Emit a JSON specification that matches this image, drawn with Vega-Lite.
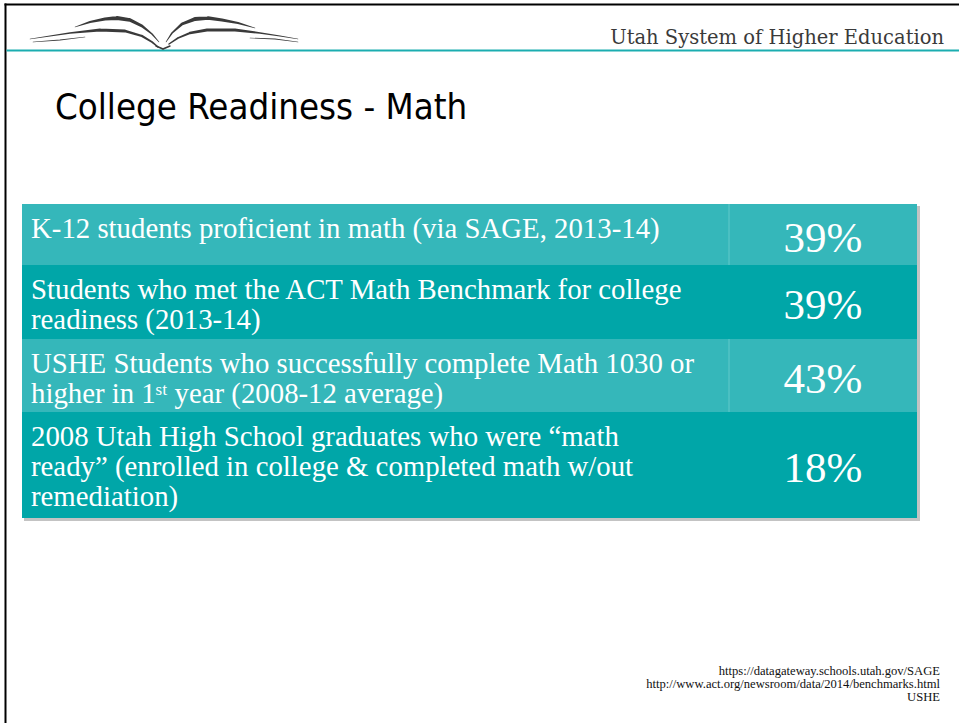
{
  "$schema": "https://vega.github.io/schema/vega-lite/v6.json",
  "width": 959,
  "height": 723,
  "autosize": {"type": "fit", "contains": "padding"},
  "padding": 0,
  "background": "white",
  "config": {"view": {"stroke": null}},
  "datasets": {
    "shapes": [
      {"kind": "frame", "x": 4.5, "x2": 959, "y": 3.5, "y2": 5.5},
      {"kind": "frame", "x": 4.5, "x2": 6.5, "y": 3.5, "y2": 723},
      {"kind": "rule", "x": 6.5, "x2": 959, "y": 49.5, "y2": 51.5},
      {"kind": "shadow", "x": 24, "x2": 920, "y": 206, "y2": 521}
    ],
    "rows": [
      {"row": 1, "shade": "light", "top": 204, "bottom": 265, "mid": 234.5, "label": "K-12 students proficient in math (via SAGE, 2013-14)", "value": "39%"},
      {"row": 2, "shade": "dark", "top": 265, "bottom": 339, "mid": 302, "label": "Students who met the ACT Math Benchmark for college\nreadiness (2013-14)", "value": "39%"},
      {"row": 3, "shade": "light", "top": 339, "bottom": 412, "mid": 375.5, "label": "USHE Students who successfully complete Math 1030 or\nhigher in 1ˢᵗ year (2008-12 average)", "value": "43%"},
      {"row": 4, "shade": "dark", "top": 412, "bottom": 518, "mid": 465, "label": "2008 Utah High School graduates who were “math\nready” (enrolled in college & completed math w/out\nremediation)", "value": "18%"}
    ],
    "logo": [
      {"s": "LU", "i": 1, "x": 75, "y": 27, "w": 0.5},
      {"s": "LU", "i": 2, "x": 90, "y": 22, "w": 2},
      {"s": "LU", "i": 3, "x": 105, "y": 19, "w": 3.2},
      {"s": "LU", "i": 4, "x": 117, "y": 18, "w": 4},
      {"s": "LU", "i": 5, "x": 130, "y": 20, "w": 3.6},
      {"s": "LU", "i": 6, "x": 142, "y": 26, "w": 2.8},
      {"s": "LU", "i": 7, "x": 152, "y": 34, "w": 1.6},
      {"s": "LU", "i": 8, "x": 159, "y": 42, "w": 0.5},
      {"s": "LL", "i": 1, "x": 30, "y": 39, "w": 0.5},
      {"s": "LL", "i": 2, "x": 50, "y": 36, "w": 0.9},
      {"s": "LL", "i": 3, "x": 70, "y": 33, "w": 1.6},
      {"s": "LL", "i": 4, "x": 100, "y": 30, "w": 2.8},
      {"s": "LL", "i": 5, "x": 125, "y": 31, "w": 2.8},
      {"s": "LL", "i": 6, "x": 142, "y": 36, "w": 2.2},
      {"s": "LL", "i": 7, "x": 152, "y": 42, "w": 1.8},
      {"s": "LL", "i": 8, "x": 158, "y": 47, "w": 1.4},
      {"s": "LT", "i": 1, "x": 33, "y": 42, "w": 0.6},
      {"s": "LT", "i": 2, "x": 60, "y": 40, "w": 0.8},
      {"s": "LT", "i": 3, "x": 85, "y": 37, "w": 0.6},
      {"s": "B", "i": 1, "x": 156, "y": 46, "w": 1.4},
      {"s": "B", "i": 2, "x": 163, "y": 49, "w": 1.8},
      {"s": "B", "i": 3, "x": 170, "y": 46, "w": 1.4},
      {"s": "RU", "i": 1, "x": 166, "y": 42, "w": 0.5},
      {"s": "RU", "i": 2, "x": 172, "y": 33, "w": 1.6},
      {"s": "RU", "i": 3, "x": 182, "y": 24, "w": 2.8},
      {"s": "RU", "i": 4, "x": 195, "y": 19, "w": 4},
      {"s": "RU", "i": 5, "x": 208, "y": 18, "w": 3.6},
      {"s": "RU", "i": 6, "x": 222, "y": 20, "w": 3.2},
      {"s": "RU", "i": 7, "x": 238, "y": 23, "w": 2},
      {"s": "RU", "i": 8, "x": 255, "y": 28, "w": 0.5},
      {"s": "RL", "i": 1, "x": 169, "y": 44, "w": 1.4},
      {"s": "RL", "i": 2, "x": 178, "y": 38, "w": 1.8},
      {"s": "RL", "i": 3, "x": 190, "y": 33, "w": 2.4},
      {"s": "RL", "i": 4, "x": 207, "y": 30, "w": 2.8},
      {"s": "RL", "i": 5, "x": 235, "y": 30, "w": 2.8},
      {"s": "RL", "i": 6, "x": 260, "y": 33, "w": 1.6},
      {"s": "RL", "i": 7, "x": 280, "y": 36, "w": 0.9},
      {"s": "RL", "i": 8, "x": 298, "y": 39, "w": 0.5},
      {"s": "RT", "i": 1, "x": 250, "y": 38, "w": 0.6},
      {"s": "RT", "i": 2, "x": 275, "y": 39, "w": 0.8},
      {"s": "RT", "i": 3, "x": 298, "y": 42, "w": 0.6}
    ]
  },
  "layer": [
    {
      "data": {"name": "shapes"},
      "transform": [{"filter": "datum.kind === 'shadow'"}],
      "mark": {"type": "rect", "color": "#b8b8b8", "opacity": 0.85},
      "encoding": {
        "x": {"field": "x", "type": "quantitative", "scale": {"domain": [0, 959], "nice": false, "zero": false}, "axis": null},
        "x2": {"field": "x2"},
        "y": {"field": "y", "type": "quantitative", "scale": {"domain": [0, 723], "reverse": true, "nice": false, "zero": false}, "axis": null},
        "y2": {"field": "y2"}
      }
    },
    {
      "data": {"name": "shapes"},
      "transform": [{"filter": "datum.kind === 'frame'"}],
      "mark": {"type": "rect", "color": "#000000"},
      "encoding": {
        "x": {"field": "x", "type": "quantitative", "scale": {"domain": [0, 959], "nice": false, "zero": false}, "axis": null},
        "x2": {"field": "x2"},
        "y": {"field": "y", "type": "quantitative", "scale": {"domain": [0, 723], "reverse": true, "nice": false, "zero": false}, "axis": null},
        "y2": {"field": "y2"}
      }
    },
    {
      "data": {"name": "shapes"},
      "transform": [{"filter": "datum.kind === 'rule'"}],
      "mark": {"type": "rect", "color": "#1badb0"},
      "encoding": {
        "x": {"field": "x", "type": "quantitative", "scale": {"domain": [0, 959], "nice": false, "zero": false}, "axis": null},
        "x2": {"field": "x2"},
        "y": {"field": "y", "type": "quantitative", "scale": {"domain": [0, 723], "reverse": true, "nice": false, "zero": false}, "axis": null},
        "y2": {"field": "y2"}
      }
    },
    {
      "data": {"name": "logo"},
      "mark": {"type": "trail", "color": "#3a3a3a"},
      "encoding": {
        "x": {"field": "x", "type": "quantitative", "scale": {"domain": [0, 959], "nice": false, "zero": false}, "axis": null},
        "y": {"field": "y", "type": "quantitative", "scale": {"domain": [0, 723], "reverse": true, "nice": false, "zero": false}, "axis": null},
        "size": {"field": "w", "type": "quantitative", "scale": null, "legend": null},
        "detail": {"field": "s", "type": "nominal"},
        "order": {"field": "i", "type": "quantitative"}
      }
    },
    {
      "data": {"values": [{"t": "Utah System of Higher Education"}]},
      "mark": {"type": "text", "align": "right", "baseline": "alphabetic", "font": "DejaVu Serif", "fontSize": 19.5, "color": "#3a3a3a"},
      "encoding": {
        "x": {"datum": 944, "type": "quantitative", "scale": {"domain": [0, 959], "nice": false, "zero": false}, "axis": null},
        "y": {"datum": 44, "type": "quantitative", "scale": {"domain": [0, 723], "reverse": true, "nice": false, "zero": false}, "axis": null},
        "text": {"field": "t", "type": "nominal"}
      }
    },
    {
      "data": {"values": [{"t": "College Readiness - Math"}]},
      "mark": {"type": "text", "align": "left", "baseline": "alphabetic", "font": "DejaVu Sans Condensed", "fontSize": 36.3, "color": "#000000"},
      "encoding": {
        "x": {"datum": 55, "type": "quantitative", "scale": {"domain": [0, 959], "nice": false, "zero": false}, "axis": null},
        "y": {"datum": 118.5, "type": "quantitative", "scale": {"domain": [0, 723], "reverse": true, "nice": false, "zero": false}, "axis": null},
        "text": {"field": "t", "type": "nominal"}
      }
    },
    {
      "data": {"name": "rows"},
      "mark": {"type": "rect"},
      "encoding": {
        "x": {"datum": 22, "type": "quantitative", "scale": {"domain": [0, 959], "nice": false, "zero": false}, "axis": null},
        "x2": {"datum": 917},
        "y": {"field": "top", "type": "quantitative", "scale": {"domain": [0, 723], "reverse": true, "nice": false, "zero": false}, "axis": null},
        "y2": {"field": "bottom"},
        "color": {"field": "shade", "type": "nominal", "scale": {"domain": ["light", "dark"], "range": ["#35b7ba", "#00a6a8"]}, "legend": null}
      }
    },
    {
      "data": {"name": "rows"},
      "transform": [{"filter": "datum.shade === 'light'"}],
      "mark": {"type": "rule", "color": "#62c9cb", "strokeWidth": 1},
      "encoding": {
        "x": {"datum": 729, "type": "quantitative", "scale": {"domain": [0, 959], "nice": false, "zero": false}, "axis": null},
        "y": {"field": "top", "type": "quantitative", "scale": {"domain": [0, 723], "reverse": true, "nice": false, "zero": false}, "axis": null},
        "y2": {"field": "bottom"}
      }
    },
    {
      "data": {"name": "rows"},
      "mark": {"type": "text", "align": "left", "baseline": "alphabetic", "dy": 34, "lineBreak": "\n", "lineHeight": 30, "font": "Liberation Serif", "fontSize": 28.8, "color": "#ffffff"},
      "encoding": {
        "x": {"datum": 31, "type": "quantitative", "scale": {"domain": [0, 959], "nice": false, "zero": false}, "axis": null},
        "y": {"field": "top", "type": "quantitative", "scale": {"domain": [0, 723], "reverse": true, "nice": false, "zero": false}, "axis": null},
        "text": {"field": "label", "type": "nominal"}
      }
    },
    {
      "data": {"name": "rows"},
      "mark": {"type": "text", "align": "center", "baseline": "middle", "dy": 4, "font": "Liberation Serif", "fontSize": 43, "color": "#ffffff"},
      "encoding": {
        "x": {"datum": 823, "type": "quantitative", "scale": {"domain": [0, 959], "nice": false, "zero": false}, "axis": null},
        "y": {"field": "mid", "type": "quantitative", "scale": {"domain": [0, 723], "reverse": true, "nice": false, "zero": false}, "axis": null},
        "text": {"field": "value", "type": "nominal"}
      }
    },
    {
      "data": {"values": [{"t": "https://datagateway.schools.utah.gov/SAGE\nhttp://www.act.org/newsroom/data/2014/benchmarks.html\nUSHE"}]},
      "mark": {"type": "text", "align": "right", "baseline": "alphabetic", "lineBreak": "\n", "lineHeight": 13, "font": "Liberation Serif", "fontSize": 12.6, "color": "#111111"},
      "encoding": {
        "x": {"datum": 940, "type": "quantitative", "scale": {"domain": [0, 959], "nice": false, "zero": false}, "axis": null},
        "y": {"datum": 675, "type": "quantitative", "scale": {"domain": [0, 723], "reverse": true, "nice": false, "zero": false}, "axis": null},
        "text": {"field": "t", "type": "nominal"}
      }
    }
  ]
}
